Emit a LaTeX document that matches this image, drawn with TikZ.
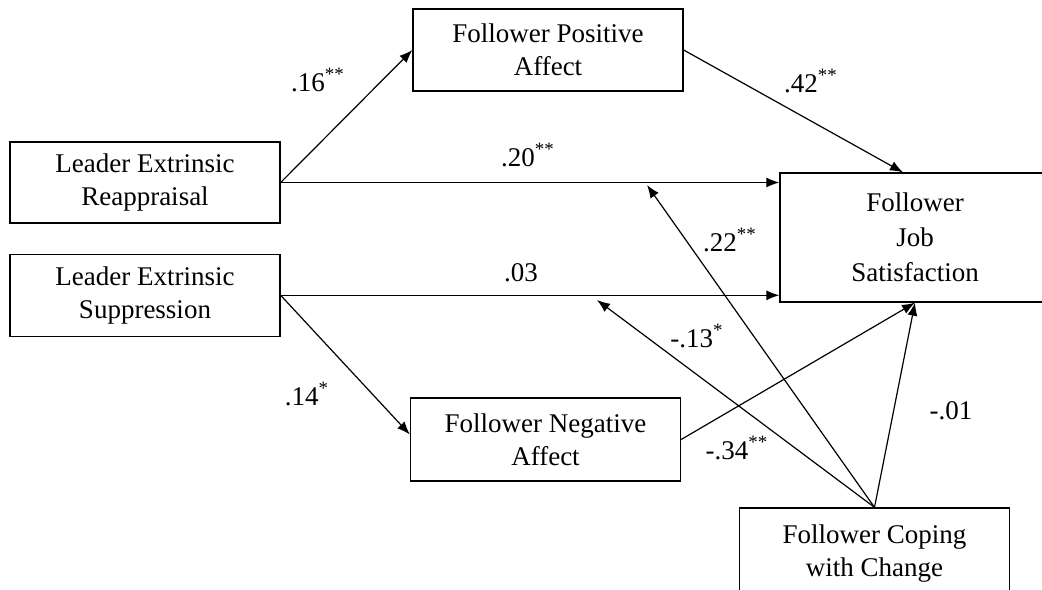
\documentclass[tikz,border=0pt]{standalone}
\usepackage{fontspec}
\setmainfont{Liberation Serif}
\usetikzlibrary{arrows.meta, positioning, calc}

\tikzset{
  var/.style={draw, line width=0.65pt, align=center, inner sep=0pt,
    minimum width=135pt, font=\fontsize{13.5}{16.5}\selectfont},
  coef/.style={inner sep=0pt, font=\fontsize{13.5}{16.5}\selectfont},
}

\begin{document}
\begin{tikzpicture}[x=0.5pt, y=-0.5pt, >={Latex[length=6.5pt,width=5pt]}, line width=0.6pt]
          \useasboundingbox (0,0) rectangle (1042,589);
          \clip (0,0) rectangle (1042,589);
          % variables
          \node (LER) [var, minimum height=40.5pt] at (145,182.5) {Leader Extrinsic\\Reappraisal};
          \node (LES) [var, minimum height=41pt, below=15pt of LER] {Leader Extrinsic\\Suppression};
          \node (FPA) [var, minimum height=41pt] at (548,50) {Follower Positive\\Affect};
          \node (FNA) [var, minimum height=41.5pt] at (545.5,439.5) {Follower Negative\\Affect};
          \node (FJS) [var, minimum height=64.5pt] at (915,237.5) {Follower\\[1pt]Job\\[1pt]Satisfaction};
          \node (FCC) [var, minimum height=46pt] at (874.5,554) {Follower Coping\\with Change};
          \coordinate (m1) at (647,185);
          \coordinate (m2) at (597,300);
          % paths
          \draw[->] (LER.east) -- (FPA.west);
          \draw[->] (LER.east) -- (LER.east -| FJS.west);
          \draw[->] (LES.east) -- (LES.east -| FJS.west);
          \draw[->] (LES.east) -- ([yshift=2.5pt]FNA.west);
          \draw[->] (FPA.east) -- ([xshift=-6pt]FJS.north);
          \draw[->] (FNA.east) -- (FJS.south);
          \draw[->] (FCC.north) -- (FJS.south);
          \draw[->] (FCC.north) -- (m1);
          \draw[->] (FCC.north) -- (m2);
          % coefficients
          \node (c1) [coef] at (318,80) {.16\textsuperscript{**}};
          \node (c2) [coef] at (528,155) {.20\textsuperscript{**}};
          \node (c3) [coef] at (521,273) {.03};
          \node (c4) [coef] at (307,394) {.14\textsuperscript{*}};
          \node (c5) [coef] at (811,81) {.42\textsuperscript{**}};
          \node (c6) [coef] at (730,240) {.22\textsuperscript{**}};
          \node (c7) [coef] at (697,336) {-.13\textsuperscript{*}};
          \node (c8) [coef] at (737,448) {-.34\textsuperscript{**}};
          \node (c9) [coef] at (951,411) {-.01};
      \end{tikzpicture}
\end{document}
